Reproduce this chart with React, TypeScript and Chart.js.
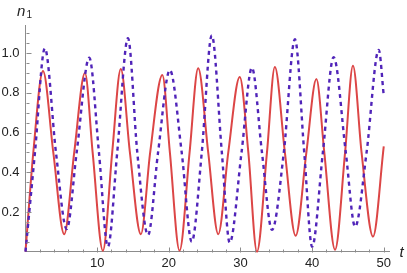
import React, { useEffect, useRef } from "react";
import { Chart, registerables } from "chart.js";

Chart.register(...registerables);

// Red (solid) series: time and value
const redT = [0, 1.09, 2.44, 3.88, 5.4, 6.8, 8.3, 9.37, 10.8, 12.1, 13.3, 14.57, 16.1, 17.4, 19.1, 20.15, 21.5, 22.9, 24.1, 25.5, 26.9, 28.3, 29.9, 31.1, 32.3, 33.7, 34.8, 36.2, 37.7, 39.2, 40.6, 41.7, 43.2, 44.6, 45.7, 46.9, 48.5, 50];
const redN = [0, 0.5, 0.91, 0.5, 0.088, 0.5, 0.9, 0.5, 0.005, 0.5, 0.92, 0.5, 0.088, 0.5, 0.89, 0.5, 0.005, 0.5, 0.924, 0.5, 0.088, 0.5, 0.88, 0.5, 0.0, 0.5, 0.93, 0.5, 0.08, 0.5, 0.87, 0.5, 0.01, 0.5, 0.937, 0.5, 0.076, 0.53];

// Blue (dashed) series: time and value
const blueT = [0, 1.32, 2.7, 4.25, 5.75, 7.14, 8.9, 10.25, 11.5, 12.8, 14.3, 15.6, 17.1, 18.5, 20.15, 21.8, 23.2, 24.6, 26.0, 27.4, 28.5, 30.15, 31.6, 33.0, 34.4, 36.05, 37.6, 38.9, 40.0, 41.5, 43.0, 44.7, 46.0, 47.6, 49.3, 50];
const blueN = [0, 0.5, 1.025, 0.5, 0.114, 0.5, 0.977, 0.5, 0.025, 0.5, 1.075, 0.5, 0.084, 0.5, 0.915, 0.5, 0.05, 0.5, 1.09, 0.5, 0.045, 0.5, 0.927, 0.5, 0.11, 0.5, 1.07, 0.5, 0.025, 0.5, 0.98, 0.5, 0.126, 0.5, 1.016, 0.786];

// Axis ticks
const xMajorTicks = [10, 20, 30, 40, 50];
const xMinorTicks = [2, 4, 6, 8, 12, 14, 16, 18, 22, 24, 26, 28, 32, 34, 36, 38, 42, 44, 46, 48];
const yMajorTicks = [0.2, 0.4, 0.6, 0.8, 1.0];
const yMinorTicks = [0.05, 0.1, 0.15, 0.25, 0.3, 0.35, 0.45, 0.5, 0.55, 0.65, 0.7, 0.75, 0.85, 0.9, 0.95, 1.05, 1.1];

const X_MAX = 50.8;
const Y_MAX = 1.142;
const FONT = "'Liberation Sans', Arial, sans-serif";

const axisPlugin = {
  id: "mmaAxes",
  afterDatasetsDraw(chart: any) {
    const { ctx } = chart;
    const xs = chart.scales.x;
    const ys = chart.scales.y;
    const x0 = Math.round(xs.getPixelForValue(0)) + 0.5;
    const y0 = Math.round(ys.getPixelForValue(0)) + 0.5;
    ctx.save();
    ctx.strokeStyle = "#8c8c8c";
    ctx.lineWidth = 1;
    ctx.beginPath();
    for (const v of xMajorTicks) {
      const px = Math.round(xs.getPixelForValue(v)) + 0.5;
      ctx.moveTo(px, y0);
      ctx.lineTo(px, y0 - 5);
    }
    for (const v of xMinorTicks) {
      const px = Math.round(xs.getPixelForValue(v)) + 0.5;
      ctx.moveTo(px, y0);
      ctx.lineTo(px, y0 - 3);
    }
    for (const v of yMajorTicks) {
      const py = Math.round(ys.getPixelForValue(v)) + 0.5;
      ctx.moveTo(x0, py);
      ctx.lineTo(x0 + 5, py);
    }
    for (const v of yMinorTicks) {
      const py = Math.round(ys.getPixelForValue(v)) + 0.5;
      ctx.moveTo(x0, py);
      ctx.lineTo(x0 + 3, py);
    }
    ctx.stroke();

    ctx.fillStyle = "#222";
    ctx.textBaseline = "alphabetic";
    ctx.textAlign = "left";
    ctx.font = `italic 15px ${FONT}`;
    ctx.fillText("n", 17, 15.5);
    ctx.font = `10px ${FONT}`;
    ctx.fillText("1", 26.5, 18);
    ctx.font = `italic 15px ${FONT}`;
    ctx.fillText("t", 399.5, 257);
    ctx.restore();
  },
};

export default function App() {
  const ref = useRef<HTMLCanvasElement | null>(null);
  useEffect(() => {
    if (!ref.current) return;
    const chart = new Chart(ref.current, {
      type: "line",
      data: {
        datasets: [
          {
            label: "blue",
            data: blueT.map((t, i) => ({ x: t, y: blueN[i] })),
            borderColor: "rgb(80, 36, 185)",
            borderWidth: 2.4,
            borderDash: [4, 4],
            pointRadius: 0,
            cubicInterpolationMode: "monotone",
            fill: false,
            clip: 6,
          },
          {
            label: "red",
            data: redT.map((t, i) => ({ x: t, y: redN[i] })),
            borderColor: "rgb(220, 70, 70)",
            borderWidth: 2,
            pointRadius: 0,
            cubicInterpolationMode: "monotone",
            fill: false,
            clip: 6,
          },
        ],
      } as any,
      options: {
        animation: false,
        responsive: false,
        maintainAspectRatio: false,
        layout: { padding: { top: 25, right: 17.5, left: 0, bottom: 0 } },
        plugins: { legend: { display: false }, tooltip: { enabled: false } },
        scales: {
          x: {
            type: "linear",
            min: 0,
            max: X_MAX,
            grid: { display: false, drawTicks: false },
            border: { display: true, color: "#8c8c8c", width: 1 },
            ticks: {
              stepSize: 10,
              includeBounds: false,
              maxRotation: 0,
              autoSkip: false,
              padding: 4,
              color: "#222",
              font: { family: FONT, size: 13 },
              callback: (v: any) => (Number(v) > 0 ? String(Math.round(Number(v))) : ""),
            },
            afterFit: (s: any) => {
              s.height = 21.3;
            },
          },
          y: {
            type: "linear",
            min: 0,
            max: Y_MAX,
            grid: { display: false, drawTicks: false },
            border: { display: true, color: "#8c8c8c", width: 1 },
            ticks: {
              stepSize: 0.2,
              includeBounds: false,
              autoSkip: false,
              padding: 6,
              color: "#222",
              font: { family: FONT, size: 13 },
              callback: (v: any) => (Number(v) > 0.01 ? Number(v).toFixed(1) : ""),
            },
            afterFit: (s: any) => {
              s.width = 25.5;
            },
          },
        },
      } as any,
      plugins: [axisPlugin],
    });
    return () => chart.destroy();
  }, []);
  return (
    <div style={{ position: "absolute", left: 0, top: 0, width: 407, height: 273, background: "#fff" }}>
      <canvas ref={ref} width={407} height={273} style={{ display: "block" }} />
    </div>
  );
}
